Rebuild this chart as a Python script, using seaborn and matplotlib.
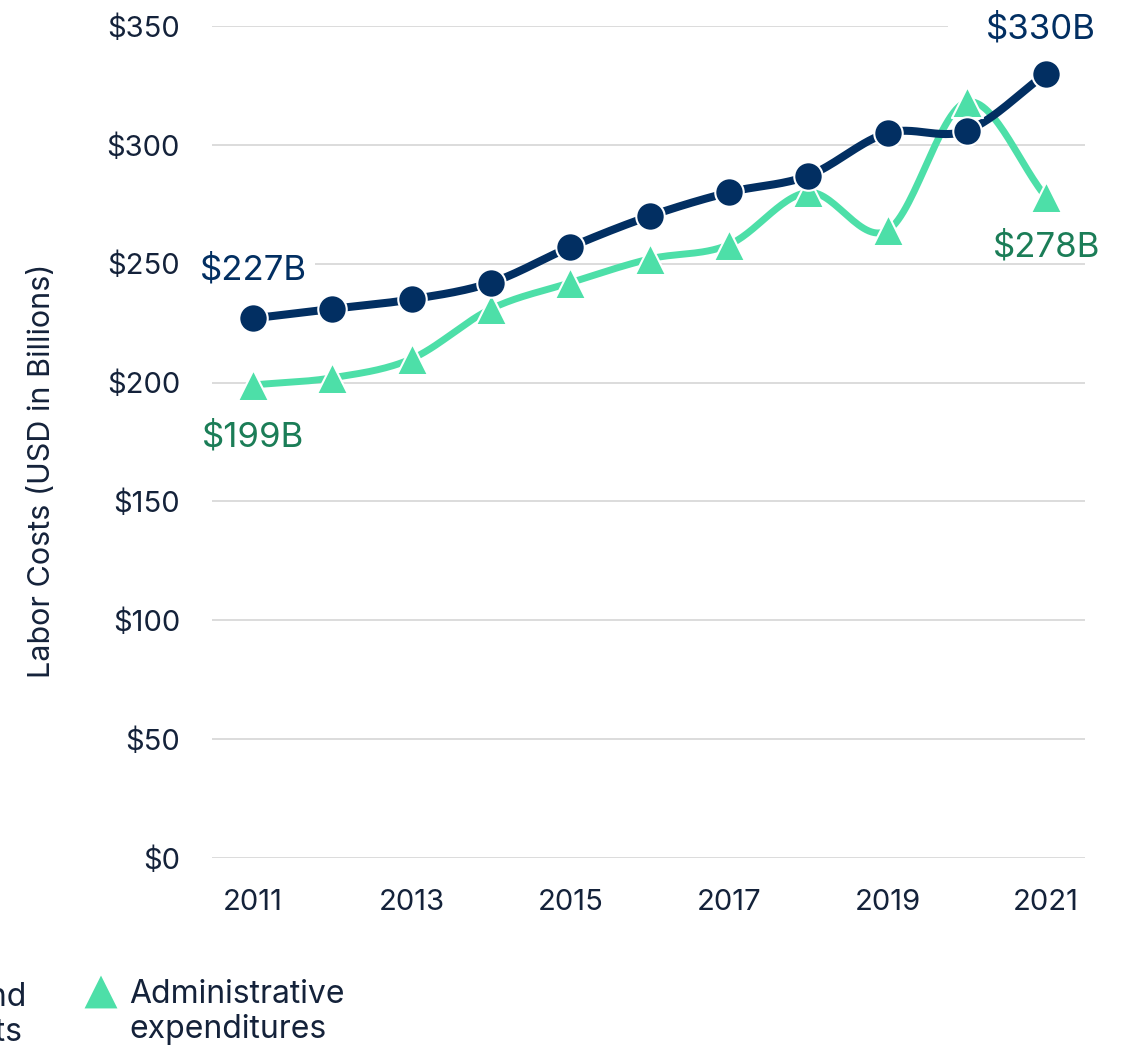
import numpy as np
import pandas as pd
import seaborn as sns
from matplotlib import pyplot as plt

# data
anos = [2011, 2012, 2013, 2014, 2015, 2016, 2017, 2018, 2019, 2020, 2021]
clinico = [227, 231, 235, 242, 257, 270, 280, 287, 305, 306, 330]
admin = [199, 202, 210, 231, 242, 252, 258, 280, 264, 318, 278]
nome_clinico = ["Direct patient care and", "clinical support costs"]
nome_admin = "Administrative\nexpenditures"
yticks = [0, 50, 100, 150, 200, 250, 300, 350]
xticks = [2011, 2013, 2015, 2017, 2019, 2021]

AZUL = "#022f62"
VERDE = "#4ddfa8"
VERDE_TXT = "#1b7d57"
CINZA = "#d9d9d9"
TXT = "#14223a"


def suavizar(x, y, n=30):
    # curva catmull-rom so para desenhar a linha
    x = np.asarray(x, float)
    y = np.asarray(y, float)
    m = np.gradient(y, x)
    xs, ys = [], []
    for i in range(len(x) - 1):
        t = np.linspace(0, 1, n, endpoint=False)
        h = x[i + 1] - x[i]
        h00 = 2 * t**3 - 3 * t**2 + 1
        h10 = t**3 - 2 * t**2 + t
        h01 = -2 * t**3 + 3 * t**2
        h11 = t**3 - t**2
        xs.append(x[i] + t * h)
        ys.append(h00 * y[i] + h10 * h * m[i] + h01 * y[i + 1] + h11 * h * m[i + 1])
    xs.append([x[-1]])
    ys.append([y[-1]])
    return np.concatenate(xs), np.concatenate(ys)


sns.set_theme(style="white")
plt.rcParams['font.family'] = ['Inter', 'DejaVu Sans']

fig = plt.figure(figsize=(11.23, 10.47), dpi=100)
ax = fig.add_axes([0.1888, 0.1805, 0.7774, 0.7947])

df = pd.DataFrame({'Ano': anos, 'clinico': clinico, 'admin': admin})

xa, ya = suavizar(anos, admin)
xc, yc = suavizar(anos, clinico)

sns.lineplot(x=xa, y=ya, color=VERDE, linewidth=5, ax=ax, zorder=3, estimator=None, sort=False)
sns.lineplot(x=xc, y=yc, color=AZUL, linewidth=5.8, ax=ax, zorder=4, estimator=None, sort=False)
sns.scatterplot(data=df, x='Ano', y='admin', marker='^', s=500, color=VERDE,
                edgecolor='white', linewidth=1.5, ax=ax, zorder=5, clip_on=False)
sns.scatterplot(data=df, x='Ano', y='clinico', marker='o', s=420, color=AZUL,
                edgecolor='white', linewidth=1.5, ax=ax, zorder=6, clip_on=False)

ax.set_xlim(2010.483, 2021.49)
ax.set_ylim(0, 350)
ax.set_yticks(yticks)
ax.set_yticklabels([f"${v}" for v in yticks])
ax.set_xticks(xticks)
ax.set_xticklabels([str(v) for v in xticks])
ax.tick_params(axis='both', length=0, labelsize=21, labelcolor=TXT)
ax.tick_params(axis='y', pad=23)
ax.tick_params(axis='x', pad=22)
ax.grid(axis='y', color=CINZA, linewidth=1.3)
ax.set_axisbelow(True)
for s in ax.spines.values():
    s.set_visible(False)
ax.set_xlabel('')
ax.set_ylabel('Labor Costs (USD in Billions)', fontsize=22, color=TXT)
ax.yaxis.set_label_coords(-0.179, 0.465)

# rotulos de inicio e fim
caixa = dict(boxstyle='square,pad=0.25', facecolor='white', edgecolor='none')
caixa_larga = dict(boxstyle='square,pad=1.1', facecolor='white', edgecolor='none')
ax.annotate(f"${clinico[0]}B", (anos[0], clinico[0]), xytext=(0, 48), textcoords='offset pixels',
            ha='center', va='center', fontsize=25, color=AZUL, bbox=caixa, zorder=2)
ax.annotate(f"${admin[0]}B", (anos[0], admin[0]), xytext=(0, -52), textcoords='offset pixels',
            ha='center', va='center', fontsize=25, color=VERDE_TXT, zorder=2)
ax.annotate(f"${clinico[-1]}B", (anos[-1], clinico[-1]), xytext=(-5, 44), textcoords='offset pixels',
            ha='center', va='center', fontsize=25, color=AZUL, bbox=caixa_larga, zorder=2)
ax.annotate(f"${admin[-1]}B", (anos[-1], admin[-1]), xytext=(0, -50), textcoords='offset pixels',
            ha='center', va='center', fontsize=25, color=VERDE_TXT, zorder=2)

# legenda feita a mao, em pixels da figura
leg = fig.add_axes([0, 0, 1, 1])
leg_df = pd.DataFrame({'x': [-60, 101], 'y': [992, 992], 'serie': ['c', 'a']})
sns.scatterplot(data=leg_df, x='x', y='y', style='serie', markers={'c': 'o', 'a': '^'},
                hue='serie', palette={'c': AZUL, 'a': VERDE}, s=560, linewidth=0,
                legend=False, ax=leg, clip_on=False)
# a primeira entrada fica cortada na borda esquerda, como no original
leg.text(26, 1006, nome_clinico[0], ha='right', va='baseline', fontsize=23, color=TXT)
leg.text(22, 1041, nome_clinico[1], ha='right', va='baseline', fontsize=23, color=TXT)
leg.text(129, 979, nome_admin, ha='left', va='top', fontsize=23, color=TXT, linespacing=1.15)
leg.set_xlim(0, 1123)
leg.set_ylim(1047, 0)
leg.axis('off')

fig.savefig('out.png', dpi=100)
